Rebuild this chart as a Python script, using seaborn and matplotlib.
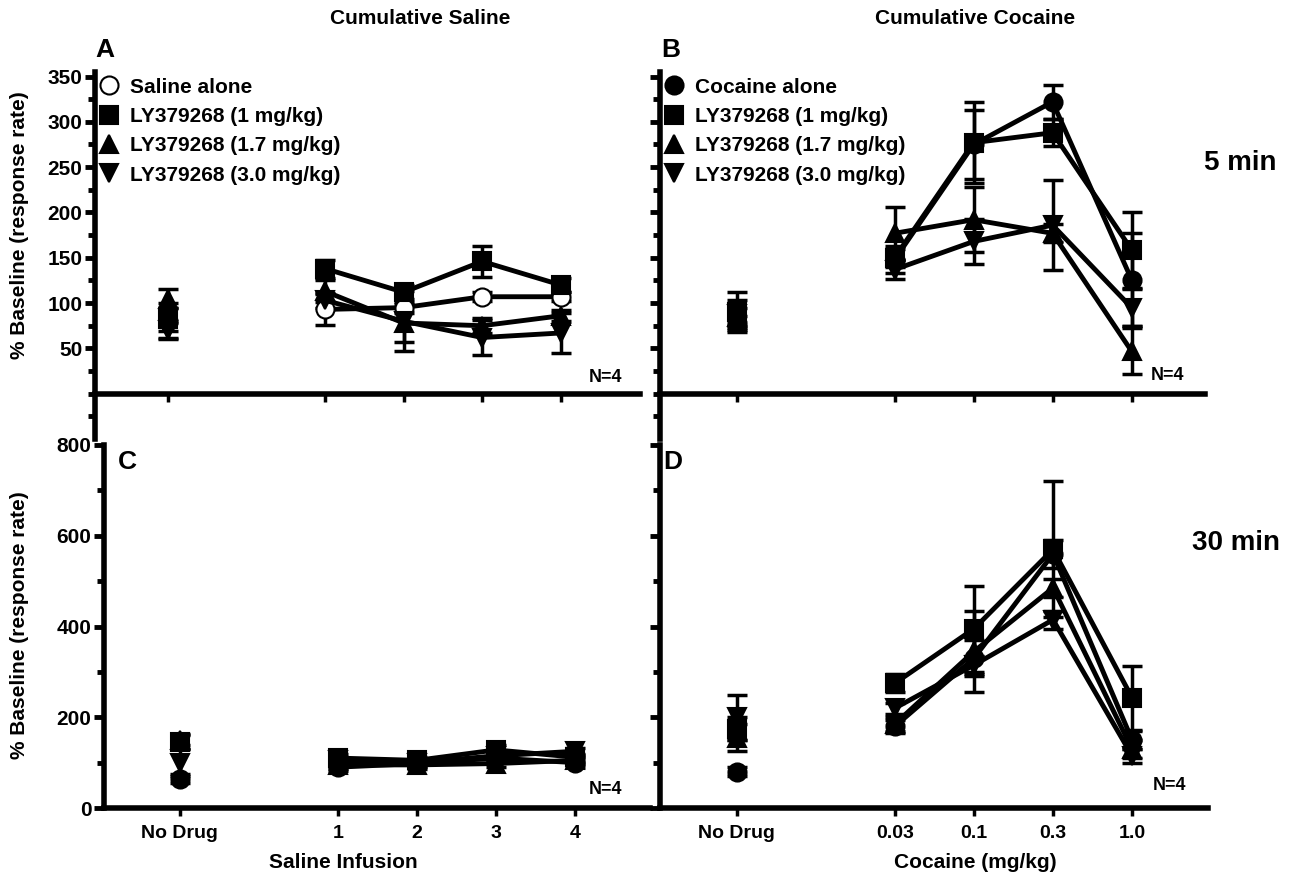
import seaborn as sns
import matplotlib.pyplot as plt
import pandas as pd
from matplotlib.lines import Line2D

# x positions: "No Drug" sits apart, the four doses share even spacing
nd_pos = 0
dose_pos = [2, 3, 4, 5]
saline_ticks = ["No Drug", "1", "2", "3", "4"]
cocaine_ticks = ["No Drug", "0.03", "0.1", "0.3", "1.0"]

series_sal = ["Saline alone", "LY379268 (1 mg/kg)", "LY379268 (1.7 mg/kg)", "LY379268 (3.0 mg/kg)"]
series_coc = ["Cocaine alone", "LY379268 (1 mg/kg)", "LY379268 (1.7 mg/kg)", "LY379268 (3.0 mg/kg)"]

# panel A - 5 min, cumulative saline  (first value = No Drug)
a_alone = [80, 93, 95, 107, 107]
a_ly1 = [82, 138, 112, 146, 120]
a_ly17 = [105, 113, 78, 75, 86]
a_ly3 = [70, 103, 80, 62, 67]
a_alone_err = [20, 17, 6, 5, 5]
a_ly1_err = [13, 10, 8, 17, 8]
a_ly17_err = [10, 12, 21, 8, 6]
a_ly3_err = [8, 8, 33, 19, 22]

# panel B - 5 min, cumulative cocaine
b_alone = [78, 148, 275, 322, 126]
b_ly1 = [90, 150, 277, 288, 159]
b_ly17 = [85, 177, 192, 177, 47]
b_ly3 = [88, 137, 168, 186, 95]
b_alone_err = [8, 15, 38, 19, 51]
b_ly1_err = [22, 10, 45, 15, 42]
b_ly17_err = [10, 29, 36, 10, 25]
b_ly3_err = [15, 10, 25, 50, 20]

# panel C - 30 min, cumulative saline
c_alone = [65, 90, 98, 110, 100]
c_ly1 = [145, 110, 105, 128, 112]
c_ly17 = [150, 95, 95, 98, 105]
c_ly3 = [100, 105, 100, 115, 125]
c_alone_err = [10, 8, 8, 8, 10]
c_ly1_err = [15, 8, 8, 10, 8]
c_ly17_err = [12, 8, 8, 8, 8]
c_ly3_err = [30, 8, 8, 8, 8]

# panel D - 30 min, cumulative cocaine
d_alone = [80, 180, 330, 560, 150]
d_ly1 = [175, 275, 395, 570, 243]
d_ly17 = [155, 185, 345, 485, 130]
d_ly3 = [200, 220, 315, 415, 115]
d_alone_err = [10, 15, 40, 30, 20]
d_ly1_err = [25, 20, 95, 150, 70]
d_ly17_err = [30, 15, 90, 20, 20]
d_ly3_err = [50, 12, 20, 20, 15]

markers = ["o", "s", "^", "v"]

sns.set_style("ticks")
plt.rcParams["font.family"] = ["Liberation Sans", "DejaVu Sans"]
plt.rcParams["font.weight"] = "bold"
plt.rcParams["text.color"] = "black"
plt.rcParams["axes.edgecolor"] = "black"
plt.rcParams["xtick.color"] = "black"
plt.rcParams["ytick.color"] = "black"
plt.rcParams["axes.labelcolor"] = "black"

W, H = 1295, 881
fig = plt.figure(figsize=(W / 100, H / 100), dpi=100)


def px_axes(left, top, right, bottom):
    """axes from pixel box"""
    return fig.add_axes([left / W, 1 - bottom / H, (right - left) / W, (bottom - top) / H])


def draw_panel(ax, values, errors, open_first):
    for i, (vals, errs) in enumerate(zip(values, errors)):
        face = "white" if (i == 0 and open_first) else "black"
        xs = [nd_pos] + dose_pos
        ax.errorbar(xs, vals, yerr=errs, fmt="none", ecolor="black",
                    elinewidth=2.5, capsize=7, capthick=2.5, zorder=2)
        df = pd.DataFrame({"x": dose_pos, "y": vals[1:]})
        sns.lineplot(data=df, x="x", y="y", ax=ax, color="black", linewidth=3.5,
                     marker=markers[i], markersize=13, markerfacecolor=face,
                     markeredgecolor="black", markeredgewidth=1.5, zorder=3)
        ax.plot([nd_pos], [vals[0]], marker=markers[i], markersize=13, color="black",
                markerfacecolor=face, markeredgecolor="black", markeredgewidth=1.5,
                linestyle="none", zorder=3)


def style_axis(ax, xlim, top_row, show_ylabels, tick_labels):
    ax.set_xlim(*xlim)
    ax.set_xticks([nd_pos] + dose_pos)
    sns.despine(ax=ax)
    for s in ["left", "bottom"]:
        ax.spines[s].set_linewidth(4)
    if top_row:
        ax.set_ylim(-50, 355)
        ax.spines["bottom"].set_position(("data", 0))
        ax.set_yticks(range(50, 351, 50))
        ax.set_yticks(range(-25, 351, 25), minor=True)
        ax.set_xticklabels([])
    else:
        ax.set_ylim(0, 800)
        ax.set_yticks(range(0, 801, 200))
        ax.set_yticks(range(100, 800, 200), minor=True)
        ax.set_xticklabels(tick_labels, fontsize=14, fontweight="bold")
    if not show_ylabels:
        ax.set_yticklabels([])
    else:
        for t in ax.get_yticklabels():
            t.set_fontsize(15)
            t.set_fontweight("bold")
    ax.tick_params(axis="y", which="major", length=7, width=3.5, pad=2)
    ax.tick_params(axis="y", which="minor", length=5, width=3.5)
    ax.tick_params(axis="x", which="major", length=6, width=2.5, pad=6)
    ax.set_xlabel("")
    ax.set_ylabel("")


ax_a = px_axes(95, 72, 640, 439)
ax_b = px_axes(660, 72, 1205, 439)
ax_c = px_axes(104, 445, 650, 808)
ax_d = px_axes(660, 445, 1208, 808)

draw_panel(ax_a, [a_alone, a_ly1, a_ly17, a_ly3], [a_alone_err, a_ly1_err, a_ly17_err, a_ly3_err], True)
draw_panel(ax_b, [b_alone, b_ly1, b_ly17, b_ly3], [b_alone_err, b_ly1_err, b_ly17_err, b_ly3_err], False)
draw_panel(ax_c, [c_alone, c_ly1, c_ly17, c_ly3], [c_alone_err, c_ly1_err, c_ly17_err, c_ly3_err], False)
draw_panel(ax_d, [d_alone, d_ly1, d_ly17, d_ly3], [d_alone_err, d_ly1_err, d_ly17_err, d_ly3_err], False)

style_axis(ax_a, (-0.93, 6.01), True, True, saline_ticks)
style_axis(ax_b, (-0.97, 5.93), True, False, cocaine_ticks)
style_axis(ax_c, (-0.96, 5.95), False, True, saline_ticks)
style_axis(ax_d, (-0.97, 5.96), False, False, cocaine_ticks)

# legends (markers only)
for ax, names in [(ax_a, series_sal), (ax_b, series_coc)]:
    handles = []
    for i, name in enumerate(names):
        face = "white" if (ax is ax_a and i == 0) else "black"
        handles.append(Line2D([], [], marker=markers[i], color="black", linestyle="none",
                              markersize=13, markerfacecolor=face, markeredgewidth=1.5,
                              label=name))
    ax.legend(handles=handles, loc="upper left", bbox_to_anchor=(0.01, 0.985),
              frameon=False, prop={"size": 15, "weight": "bold"}, handlelength=0.8,
              handletextpad=0.6, labelspacing=0.5, borderaxespad=0, borderpad=0)

# figure texts
fig.text(420 / W, 1 - 18 / H, "Cumulative Saline", ha="center", va="center", fontsize=15, fontweight="bold")
fig.text(975 / W, 1 - 18 / H, "Cumulative Cocaine", ha="center", va="center", fontsize=15, fontweight="bold")
for lbl, x, y in [("A", 105, 50), ("B", 671, 50), ("C", 127, 462), ("D", 673, 462)]:
    fig.text(x / W, 1 - y / H, lbl, ha="center", va="center", fontsize=19, fontweight="bold")
fig.text(1240 / W, 1 - 163 / H, "5 min", ha="center", va="center", fontsize=20, fontweight="bold")
fig.text(1236 / W, 1 - 543 / H, "30 min", ha="center", va="center", fontsize=20, fontweight="bold")
for x, y in [(605, 377), (1168, 376), (606, 790), (1170, 785)]:
    fig.text(x / W, 1 - y / H, "N=4", ha="center", va="center", fontsize=13, fontweight="bold")
fig.text(20 / W, 1 - 225 / H, "% Baseline (response rate)", rotation=90, ha="center", va="center",
         fontsize=15, fontweight="bold")
fig.text(20 / W, 1 - 625 / H, "% Baseline (response rate)", rotation=90, ha="center", va="center",
         fontsize=15, fontweight="bold")
fig.text(343 / W, 1 - 862 / H, "Saline Infusion", ha="center", va="center", fontsize=15, fontweight="bold")
fig.text(975 / W, 1 - 862 / H, "Cocaine (mg/kg)", ha="center", va="center", fontsize=15, fontweight="bold")

fig.savefig("out.png", dpi=100)
plt.close(fig)
